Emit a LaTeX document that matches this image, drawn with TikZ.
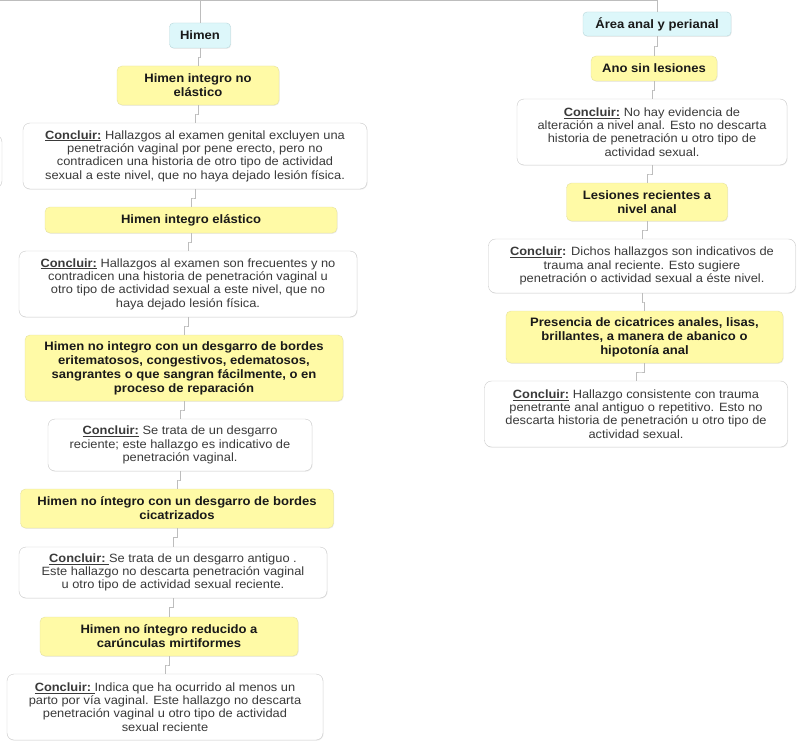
\documentclass[tikz,border=0pt]{standalone}
\usepackage{fontspec}
\setmainfont{Liberation Sans}[FakeStretch=1.07]
\usepackage{xcolor}
\usetikzlibrary{positioning, calc, shadows}

\definecolor{boxgray}{HTML}{C9C9C9}
\definecolor{headfill}{HTML}{FFFAA6}
\definecolor{headline}{HTML}{E6E2A0}
\definecolor{topfill}{HTML}{DDF7FA}
\definecolor{topline}{HTML}{B8D8DC}
\definecolor{bodytext}{HTML}{3A3A3A}
\definecolor{linkgray}{HTML}{BDBDBD}

\newcommand{\concl}{\underline{\textbf{Concluir:}}}

\begin{document}
\begin{tikzpicture}[
  x=1pt, y=-1pt,
  topic/.style={rounded corners=4pt, draw=topline, fill=topfill, align=center, inner sep=1pt,
    font=\fontsize{12.2}{14}\selectfont\bfseries, text=black!90,
    drop shadow={shadow xshift=0.6pt, shadow yshift=-0.8pt, opacity=0.15}},
  finding/.style={rounded corners=5pt, draw=headline, fill=headfill, align=center, inner sep=1pt,
    font=\fontsize{12.2}{14}\selectfont\bfseries, text=black!90,
    drop shadow={shadow xshift=0.6pt, shadow yshift=-0.8pt, opacity=0.15}},
  verdict/.style={rounded corners=7pt, draw=boxgray, fill=white, align=center, inner sep=1pt,
    font=\fontsize{12}{13.3}\selectfont, text=bodytext,
    drop shadow={shadow xshift=0.6pt, shadow yshift=-0.8pt, opacity=0.12}},
  link/.style={draw=linkgray, line width=0.8pt}
]
  \useasboundingbox (0,0) rectangle (801,752);
  \fill[white] (0,0) rectangle (801,752);

  % columna del himen
  \node[topic, minimum width=61, minimum height=25] (h0) at (200,35.5) {Himen};
  \node[finding, minimum width=162, minimum height=39] (h1) at (198,85.5)
    {Himen integro no\\elástico};
  \node[verdict, minimum width=344, minimum height=66] (c1) at (195,156)
    {\concl{} Hallazgos al examen genital excluyen una\\penetración vaginal por pene erecto, pero no\\contradicen una historia de otro tipo de actividad\\sexual a este nivel, que no haya dejado lesión física.};
  \node[finding, minimum width=292, minimum height=26] (h2) at (191,220)
    {Himen integro elástico};
  \node[verdict, minimum width=338, minimum height=66] (c2) at (188,284)
    {\concl{} Hallazgos al examen son frecuentes y no\\contradicen una historia de penetración vaginal u\\otro tipo de actividad sexual a este nivel, que no\\haya dejado lesión física.};
  \node[finding, minimum width=318, minimum height=66] (h3) at (184,368)
    {Himen no integro con un desgarro de bordes\\eritematosos, congestivos, edematosos,\\sangrantes o que sangran fácilmente, o en\\proceso de reparación};
  \node[verdict, minimum width=264, minimum height=52] (c3) at (180,445)
    {\concl{} Se trata de un desgarro\\reciente; este hallazgo es indicativo de\\penetración vaginal.};
  \node[finding, minimum width=313, minimum height=39] (h4) at (177,508.5)
    {Himen no íntegro con un desgarro de bordes\\cicatrizados};
  \node[verdict, minimum width=308, minimum height=51] (c4) at (173,572.5)
    {\underline{\textbf{Concluir:}\ }Se trata de un desgarro antiguo .\\Este hallazgo no descarta penetración vaginal\\u otro tipo de actividad sexual reciente.};
  \node[finding, minimum width=258, minimum height=39] (h5) at (169,636.5)
    {Himen no íntegro reducido a\\carúnculas mirtiformes};
  \node[verdict, minimum width=316, minimum height=66] (c5) at (165,707)
    {\underline{\textbf{Concluir:}\ }Indica que ha ocurrido al menos un\\parto por vía vaginal. Este hallazgo no descarta\\penetración vaginal u otro tipo de actividad\\sexual reciente};

  % columna anal
  \node[topic, minimum width=148, minimum height=24] (a0) at (657,24) {Área anal y perianal};
  \node[finding, minimum width=126, minimum height=25] (a1) at (654,68.5) {Ano sin lesiones};
  \node[verdict, minimum width=270, minimum height=66] (d1) at (652,132)
    {\concl{} No hay evidencia de\\alteración a nivel anal. Esto no descarta\\historia de penetración u otro tipo de\\actividad sexual.};
  \node[finding, minimum width=161, minimum height=38] (a2) at (647,202)
    {Lesiones recientes a\\nivel anal};
  \node[verdict, minimum width=307, minimum height=54] (d2) at (642,266)
    {\underline{\textbf{Concluir}}\textbf{:} Dichos hallazgos son indicativos de\\trauma anal reciente. Esto sugiere\\penetración o actividad sexual a éste nivel.};
  \node[finding, minimum width=277, minimum height=52] (a3) at (644.5,337)
    {Presencia de cicatrices anales, lisas,\\brillantes, a manera de abanico o\\hipotonía anal};
  \node[verdict, minimum width=303, minimum height=66] (d3) at (636,414)
    {\concl{} Hallazgo consistente con trauma\\penetrante anal antiguo o repetitivo. Esto no\\descarta historia de penetración u otro tipo de\\actividad sexual.};

  % rama superior
  \coordinate (r0) at (0,0.6);
  \coordinate (r1) at (657,0.6);
  \draw[link] (r0) -- (r1) -- (a0.north);
  \draw[link] (h0.north |- r0) -- (h0.north);

  % nodo cortado en el borde
  \draw[boxgray, rounded corners=7pt] (-40,135) rectangle (2,188);

  % enlaces
  \foreach \a/\b in {h0/h1, h1/c1, c1/h2, h2/c2, c2/h3, h3/c3, c3/h4, h4/c4, c4/h5, h5/c5,
                     a0/a1, a1/d1, d1/a2, a2/d2, d2/a3, a3/d3}
    \draw[link] (\a.south) |- ($(\a.south)!.5!(\b.north)$) -| (\b.north);
\end{tikzpicture}
\end{document}
